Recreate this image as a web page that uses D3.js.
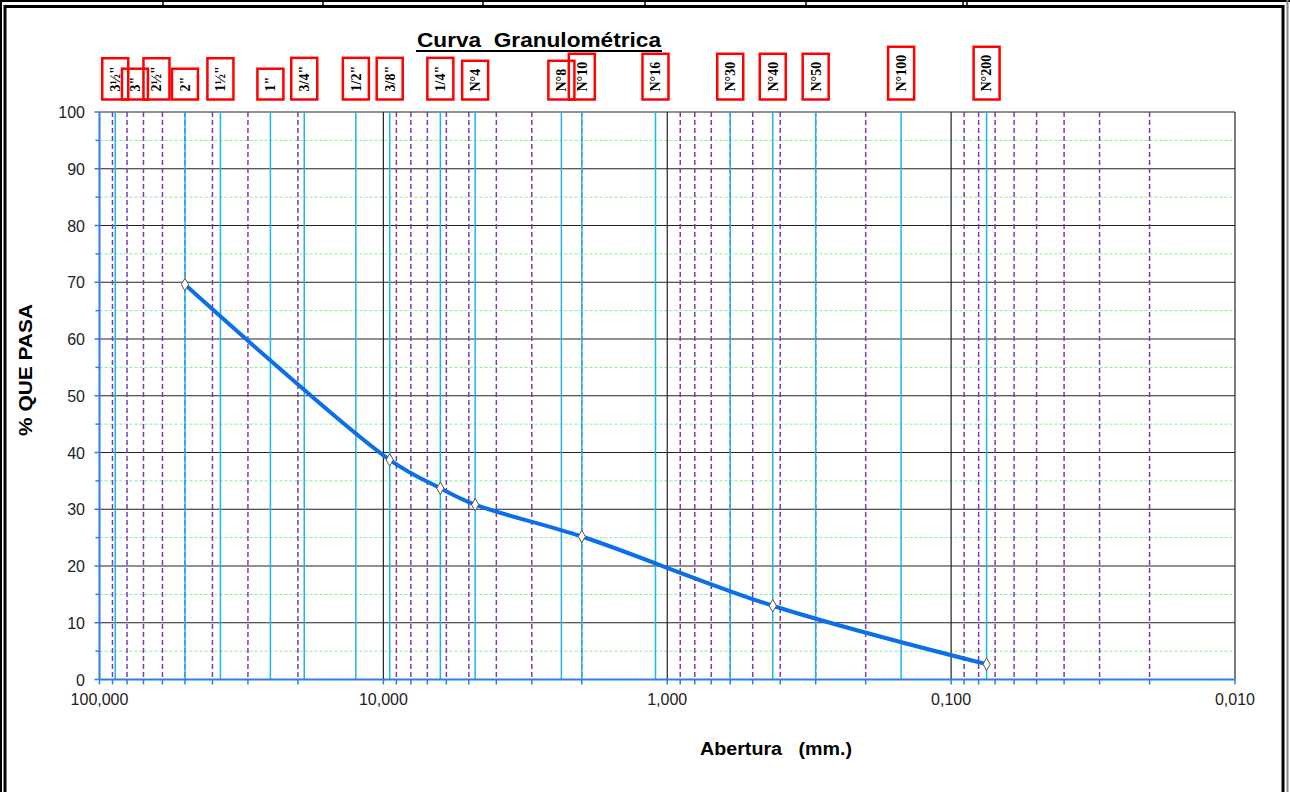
<!DOCTYPE html>
<head>
  <meta charset="utf-8">
  <style>
    body { margin:0; background:#fff; }
    text { font-family: "Liberation Sans", Arial, sans-serif; }
    .sieve text { font-family: "Liberation Serif", "Times New Roman", serif; font-size:14px; font-weight:bold; }
  </style>
</head>
<body>
  <script src="https://d3js.org/d3.v7.min.js"></script>
  <script>

    // DATA
    var sieveLabels = ['3½"', '3"', '2½"', '2"', '1½"', '1"', '3/4"', '1/2"', '3/8"', '1/4"',
                       'N°4', 'N°8', 'N°10', 'N°16', 'N°30', 'N°40', 'N°50', 'N°100', 'N°200'];
    var sieveSizes  = [88, 75, 63, 50, 37.5, 25, 19, 12.5, 9.5, 6.3,
                       4.75, 2.36, 2.0, 1.1, 0.6, 0.425, 0.3, 0.15, 0.075];
    var sieveHasLine = [true, false, false, true, true, true, true, true, true, true,
                        true, true, true, true, true, true, true, true, true];

    var sampleSizes = [50, 9.5, 6.3, 4.75, 2.0, 0.425, 0.075];
    var samplePass  = [69.6, 38.7, 33.7, 30.8, 25.2, 13.0, 2.7];

    var xTickValues = [100, 10, 1, 0.1, 0.01];
    var yTickValues = [0, 10, 20, 30, 40, 50, 60, 70, 80, 90, 100];

    // DIMENSIONS
    var width = 1290, height = 792;

    var svg = d3.select("body").append("svg")
      .attr("width", width)
      .attr("height", height);

    var x = d3.scaleLog().domain([100, 0.01]).range([99.5, 1235]);
    var y = d3.scaleLinear().domain([0, 100]).range([679.5, 112]);

    var fmt = d3.formatLocale({ decimal: ",", thousands: ".", grouping: [3], currency: ["", ""] }).format(".3f");

    // FRAME (bits of the sheet around the chart)
    svg.append("line").attr("x1", 0).attr("x2", width).attr("y1", 1).attr("y2", 1)
      .attr("stroke", "#000").attr("stroke-width", 2);
    [163, 323, 483, 645, 806, 963, 967].forEach(function(px) {
      svg.append("line").attr("x1", px).attr("x2", px).attr("y1", 0).attr("y2", 5)
        .attr("stroke", "#000").attr("stroke-width", 1.5);
    });
    svg.append("rect").attr("x", 5).attr("y", 6.5).attr("width", 1278).attr("height", 800)
      .attr("fill", "none").attr("stroke", "#000").attr("stroke-width", 3);
    svg.append("line").attr("x1", 1).attr("x2", 1).attr("y1", 0).attr("y2", height)
      .attr("stroke", "#000").attr("stroke-width", 2);
    svg.append("line").attr("x1", 1287.5).attr("x2", 1287.5).attr("y1", 0).attr("y2", height)
      .attr("stroke", "#888").attr("stroke-width", 2);

    var plot = svg.append("g");

    // HORIZONTAL GRID
    var halfSteps = d3.range(5, 100, 10);
    plot.selectAll("line.hminor").data(halfSteps).enter().append("line")
      .attr("x1", x(100)).attr("x2", x(0.01))
      .attr("y1", d => y(d)).attr("y2", d => y(d))
      .attr("stroke", "#8fe88f").attr("stroke-width", 1).attr("stroke-dasharray", "3,2");

    plot.selectAll("line.hmajor").data(yTickValues.slice(1)).enter().append("line")
      .attr("x1", x(100)).attr("x2", x(0.01))
      .attr("y1", d => y(d)).attr("y2", d => y(d))
      .attr("stroke", "#222").attr("stroke-width", 1.2);

    // VERTICAL GRID
    var logTicks = x.ticks();
    var isDecade = d => Math.abs(Math.log10(d) - Math.round(Math.log10(d))) < 1e-9;
    var minors = logTicks.filter(d => !isDecade(d));
    var decades = logTicks.filter(d => isDecade(d) && d < 100);

    plot.selectAll("line.vminor").data(minors).enter().append("line")
      .attr("x1", d => x(d)).attr("x2", d => x(d))
      .attr("y1", y(100)).attr("y2", y(0))
      .attr("stroke", "#7a3db8").attr("stroke-width", 1.5).attr("stroke-dasharray", "5,3");

    plot.selectAll("line.vmajor").data(decades).enter().append("line")
      .attr("x1", d => x(d)).attr("x2", d => x(d))
      .attr("y1", y(100)).attr("y2", y(0))
      .attr("stroke", "#222").attr("stroke-width", 1.2);

    // SIEVE LINES
    var sieves = sieveLabels.map((l, i) => ({ label: l, size: sieveSizes[i], line: sieveHasLine[i] }));

    plot.selectAll("line.sieve").data(sieves.filter(d => d.line)).enter().append("line")
      .attr("x1", d => x(d.size)).attr("x2", d => x(d.size))
      .attr("y1", y(100)).attr("y2", y(0))
      .attr("stroke", "#1fb4ee").attr("stroke-width", 1.5);

    // AXES
    var axisColor = "#2b7fe6";
    plot.append("line").attr("x1", x(100)).attr("x2", x(100)).attr("y1", y(100)).attr("y2", y(0))
      .attr("stroke", axisColor).attr("stroke-width", 2);
    plot.append("line").attr("x1", x(100)).attr("x2", x(0.01)).attr("y1", y(0)).attr("y2", y(0))
      .attr("stroke", axisColor).attr("stroke-width", 2);

    plot.selectAll("line.ytick").data(d3.range(0, 101, 5)).enter().append("line")
      .attr("x1", d => x(100) - (d % 10 === 0 ? 5 : 4)).attr("x2", x(100))
      .attr("y1", d => y(d)).attr("y2", d => y(d))
      .attr("stroke", axisColor).attr("stroke-width", 1.5);

    plot.selectAll("line.xtick").data(logTicks).enter().append("line")
      .attr("x1", d => x(d)).attr("x2", d => x(d))
      .attr("y1", y(0)).attr("y2", y(0) + 5)
      .attr("stroke", axisColor).attr("stroke-width", 1.5);

    plot.selectAll("text.ylab").data(yTickValues).enter().append("text")
      .attr("x", 85).attr("y", d => y(d) + 6)
      .attr("text-anchor", "end").attr("font-size", 16).attr("fill", "#222")
      .text(d => d);

    plot.selectAll("text.xlab").data(xTickValues).enter().append("text")
      .attr("x", d => x(d)).attr("y", 705)
      .attr("text-anchor", "middle").attr("font-size", 16).attr("fill", "#222")
      .text(d => fmt(d));

    // CURVE
    var line = d3.line()
      .x(d => x(d.size)).y(d => y(d.pass))
      .curve(d3.curveCatmullRom);

    var samples = sampleSizes.map((s, i) => ({ size: s, pass: samplePass[i] }));

    plot.append("path").datum(samples)
      .attr("d", line)
      .attr("fill", "none").attr("stroke", "#0b6fe8").attr("stroke-width", 4);

    plot.selectAll("path.mark").data(samples).enter().append("path")
      .attr("d", d3.symbol().type(d3.symbolDiamond).size(45))
      .attr("transform", d => "translate(" + x(d.size) + "," + y(d.pass) + ")")
      .attr("fill", "#fff").attr("stroke", "#555").attr("stroke-width", 1);

    // SIEVE LABEL BOXES
    var boxes = svg.selectAll("g.sieve").data(sieves).enter().append("g")
      .classed("sieve", true);

    boxes.each(function(d) {
      var g = d3.select(this);
      var t = g.append("text").text(d.label);
      var len = t.node().getComputedTextLength();
      var h = len + 16, w = 26, bottom = 99.5;
      g.insert("rect", "text")
        .attr("x", x(d.size) - w / 2).attr("y", bottom - h)
        .attr("width", w).attr("height", h)
        .attr("fill", "none").attr("stroke", "#f00").attr("stroke-width", 2.5);
      t.attr("transform", "translate(" + x(d.size) + "," + (bottom - h / 2) + ") rotate(-90)")
        .attr("text-anchor", "middle").attr("dy", "0.35em").attr("fill", "#000");
    });

    // TITLES
    svg.append("text")
      .attr("x", 539).attr("y", 46.5)
      .attr("text-anchor", "middle").attr("font-size", 20).attr("font-weight", "bold")
      .attr("textLength", 244).attr("lengthAdjust", "spacingAndGlyphs")
      .style("white-space", "pre")
      .text("Curva  Granulométrica");
    svg.append("line").attr("x1", 416).attr("x2", 662).attr("y1", 51).attr("y2", 51)
      .attr("stroke", "#000").attr("stroke-width", 2);

    svg.append("text")
      .attr("transform", "translate(32,370) rotate(-90)")
      .attr("text-anchor", "middle").attr("font-size", 19).attr("font-weight", "bold")
      .attr("textLength", 132).attr("lengthAdjust", "spacingAndGlyphs")
      .style("white-space", "pre")
      .text("% QUE PASA");

    svg.append("text")
      .attr("x", 776).attr("y", 755)
      .attr("text-anchor", "middle").attr("font-size", 18).attr("font-weight", "bold")
      .attr("textLength", 152).attr("lengthAdjust", "spacingAndGlyphs")
      .style("white-space", "pre")
      .text("Abertura   (mm.)");

  </script>
</body>
